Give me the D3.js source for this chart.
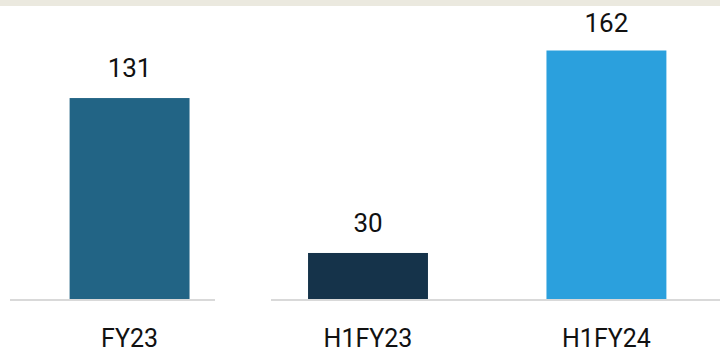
<!DOCTYPE html>
<html>
<head>
<meta charset="utf-8">
<script src="https://cdn.jsdelivr.net/npm/d3@7"></script>
<style>
  html, body { margin: 0; padding: 0; background: #ffffff; }
  svg { display: block; }
  text { font-family: Roboto, "Open Sans", sans-serif; fill: #111111; }
</style>
</head>
<body>
<svg id="chart" width="720" height="352"></svg>
<script>
// Period labels and values
const categories = ["FY23", "H1FY23", "H1FY24"];
const values = [131, 30, 162];
const colors = ["#226485", "#15334a", "#2ba0dd"];

const W = 720, H = 352;
const baseY = 299;
const svg = d3.select("#chart");

// Top band
svg.append("rect").attr("x", 0).attr("y", 0).attr("width", W).attr("height", 6)
  .attr("fill", "#ebe9df");

const x = d3.scaleBand().domain(categories).range([10, 726]).paddingInner(0.497).paddingOuter(0.25);
const y = d3.scaleLinear().domain([0, 162]).range([baseY, 50.5]);

// Baseline (two segments)
svg.append("line").attr("x1", 10).attr("x2", 215).attr("y1", baseY + 1).attr("y2", baseY + 1)
  .attr("stroke", "#d9d9d9").attr("stroke-width", 2);
svg.append("line").attr("x1", 271).attr("x2", 720).attr("y1", baseY + 1).attr("y2", baseY + 1)
  .attr("stroke", "#d9d9d9").attr("stroke-width", 2);

const data = categories.map((c, i) => ({ c, v: values[i], col: colors[i] }));

svg.selectAll("rect.bar").data(data).join("rect")
  .attr("class", "bar")
  .attr("x", d => x(d.c))
  .attr("width", x.bandwidth())
  .attr("y", d => y(d.v))
  .attr("height", d => baseY - y(d.v))
  .attr("fill", d => d.col);

// Value labels
svg.selectAll("text.val").data(data).join("text")
  .attr("class", "val")
  .attr("x", d => x(d.c) + x.bandwidth() / 2)
  .attr("y", d => Math.max(y(d.v) - 21, 32))
  .attr("text-anchor", "middle")
  .attr("font-size", 26)
  .text(d => d.v);

// Category labels
svg.selectAll("text.cat").data(data).join("text")
  .attr("class", "cat")
  .attr("x", d => x(d.c) + x.bandwidth() / 2)
  .attr("y", 347)
  .attr("text-anchor", "middle")
  .attr("font-size", 25)
  .text(d => d.c);
</script>
</body>
</html>
